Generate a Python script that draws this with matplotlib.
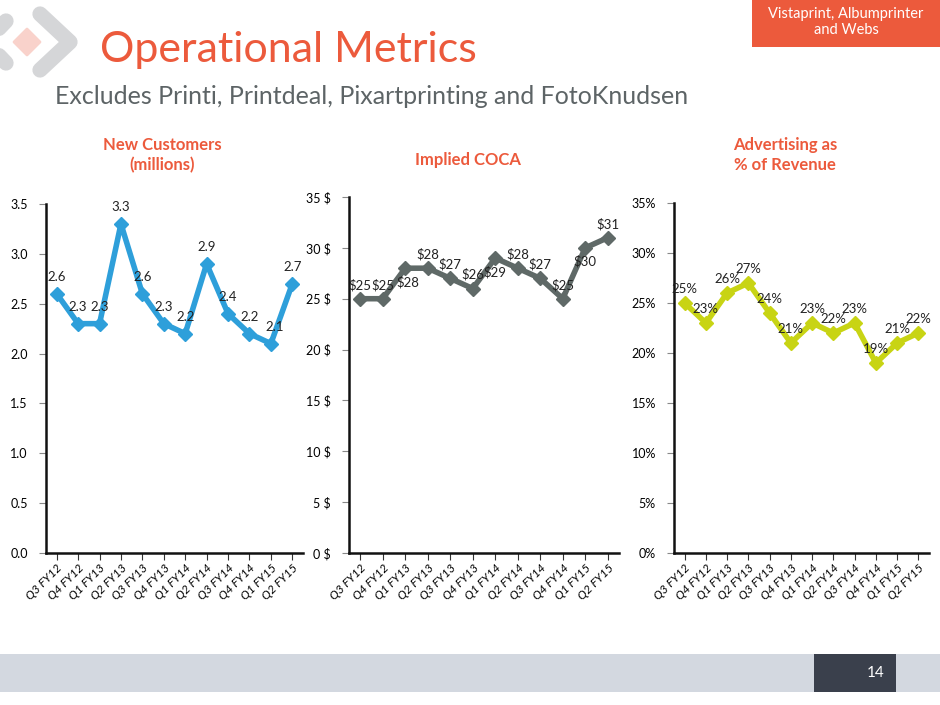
import numpy as np
import matplotlib.pyplot as plt
from matplotlib.patches import Rectangle, Polygon
from matplotlib.ticker import FuncFormatter

plt.rcParams['font.family'] = ['Lato', 'DejaVu Sans']

quarters = ['Q3 FY12', 'Q4 FY12', 'Q1 FY13', 'Q2 FY13', 'Q3 FY13', 'Q4 FY13',
            'Q1 FY14', 'Q2 FY14', 'Q3 FY14', 'Q4 FY14', 'Q1 FY15', 'Q2 FY15']
new_customers = [2.6, 2.3, 2.3, 3.3, 2.6, 2.3, 2.2, 2.9, 2.4, 2.2, 2.1, 2.7]
coca = [25, 25, 28, 28, 27, 26, 29, 28, 27, 25, 30, 31]
advertising = [25, 23, 26, 27, 24, 21, 23, 22, 23, 19, 21, 22]

ORANGE = '#EC5A3C'
x = np.arange(len(quarters))

fig = plt.figure(figsize=(9.4, 7.05), dpi=100)

# background decorations (figure pixel coords)
bg = fig.add_axes([0, 0, 1, 1])
bg.set_xlim(0, 940)
bg.set_ylim(705, 0)
bg.axis('off')
bg.add_patch(Rectangle((0, 654), 940, 38, color='#D3D8E0', lw=0))
bg.add_patch(Rectangle((814, 654), 82, 38, color='#3A404C', lw=0))
bg.text(876, 673, '14', color='white', fontsize=11, ha='center', va='center')
bg.add_patch(Rectangle((752, 0), 188, 47, color=ORANGE, lw=0))
bg.text(846, 22, 'Vistaprint, Albumprinter\nand Webs', color='white', fontsize=10.5,
        ha='center', va='center', linespacing=1.25)
# logo
bg.plot([40, 70, 40], [14, 42, 70], color='#D5D6D8', lw=11,
        solid_capstyle='round', solid_joinstyle='round')
bg.plot([6, -14, 6], [21, 42, 63], color='#D5D6D8', lw=11,
        solid_capstyle='round', solid_joinstyle='round')
bg.add_patch(Polygon([(27, 29), (40, 42), (27, 55), (14, 42)], closed=True,
                     color='#F9D2CB', lw=2, joinstyle='round'))
bg.text(100, 50, 'Operational Metrics', color=ORANGE, fontsize=31, ha='left', va='center')
bg.text(55, 97, 'Excludes Printi, Printdeal, Pixartprinting and FotoKnudsen',
        color='#5D6466', fontsize=18, ha='left', va='center')

bg.text(162, 155, 'New Customers\n(millions)', color=ORANGE, fontsize=12,
        fontweight='bold', ha='center', va='center', linespacing=1.3)
bg.text(468, 160, 'Implied COCA', color=ORANGE, fontsize=12,
        fontweight='bold', ha='center', va='center')
bg.text(785, 155, 'Advertising as\n% of Revenue', color=ORANGE, fontsize=12,
        fontweight='bold', ha='center', va='center', linespacing=1.3)


def make_chart(rect, values, color, ylim, step, fmt, labels, offsets):
    ax = fig.add_axes(rect)
    ax.plot(x, values, color=color, lw=4, marker='D', ms=7, zorder=3)
    ax.set_xlim(-0.5, len(values) - 0.5)
    ax.set_ylim(*ylim)
    ax.set_yticks(np.arange(ylim[0], ylim[1] + step / 2, step))
    ax.yaxis.set_major_formatter(FuncFormatter(fmt))
    ax.set_xticks(x)
    ax.set_xticklabels(quarters, rotation=45, ha='right', rotation_mode='anchor',
                       fontsize=8.5, style='italic')
    ax.tick_params(axis='y', labelsize=9, length=5, color='#888888', pad=8)
    ax.tick_params(axis='x', length=5, color='#333333', pad=2)
    for s in ['top', 'right']:
        ax.spines[s].set_visible(False)
    for s in ['left', 'bottom']:
        ax.spines[s].set_linewidth(1.8)
        ax.spines[s].set_color('#111111')
    for i, v in enumerate(values):
        dx, dy = offsets[i]
        ax.annotate(labels[i], (i, v), xytext=(dx, dy), textcoords='offset points',
                    ha='center', va='center', fontsize=9.5, color='#222222', zorder=4)
    return ax


nc_labels = ['%.1f' % v for v in new_customers]
nc_off = [(0, 12)] * len(new_customers)
nc_off[10] = (3, 12)
make_chart([46 / 940, 1 - 553 / 705, 257 / 940, 349 / 705], new_customers, '#2E9FDA',
           (0, 3.5), 0.5, lambda v, p: '%.1f' % v, nc_labels, nc_off)

coca_labels = ['$%d' % v for v in coca]
coca_off = [(0, 10), (0, 10), (2, -10), (0, 10), (0, 10), (0, 10),
            (0, -10), (0, 10), (0, 10), (0, 10), (0, -10), (0, 10)]
make_chart([349 / 940, 1 - 553 / 705, 270 / 940, 356 / 705], coca, '#5F6967',
           (0, 35), 5, lambda v, p: '%d $' % v, coca_labels, coca_off)

adv_labels = ['%d%%' % v for v in advertising]
adv_off = [(0, 10)] * len(advertising)
make_chart([674 / 940, 1 - 553 / 705, 255 / 940, 350 / 705], advertising, '#C8D414',
           (0, 35), 5, lambda v, p: '%d%%' % v, adv_labels, adv_off)

fig.savefig('out.png', dpi=100)
